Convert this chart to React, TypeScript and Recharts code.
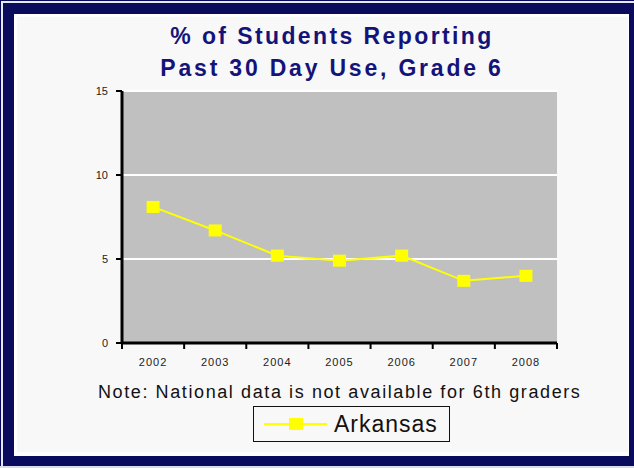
import React from "react";
import {
  CartesianGrid,
  Legend,
  Line,
  LineChart,
  XAxis,
  YAxis,
} from "recharts";

const YEARS = ["2002", "2003", "2004", "2005", "2006", "2007", "2008"];
const ARKANSAS = [8.1, 6.7, 5.2, 4.9, 5.2, 3.7, 4.0];
const Y_TICKS = [0, 5, 10, 15];

const DATA = YEARS.map((year, i) => ({ year, arkansas: ARKANSAS[i] }));

const NAVY = "#0b0b5e";
const TITLE_COLOR = "#141478";
const YELLOW = "#ffff00";
const FONT = "Arial, 'Liberation Sans', sans-serif";

const W = 634;
const H = 468;
const PLOT_LEFT = 122;
const PLOT_RIGHT = 557;
const PLOT_W = PLOT_RIGHT - PLOT_LEFT;
const HALF_BAND = PLOT_W / YEARS.length / 2;

function YearTick(props: any) {
  const { x, y, payload, index } = props;
  return (
    <g>
      <line x1={x - HALF_BAND} x2={x - HALF_BAND} y1={y} y2={y + 6} stroke="#000" strokeWidth={2} />
      {index === YEARS.length - 1 && (
        <line x1={x + HALF_BAND} x2={x + HALF_BAND} y1={y} y2={y + 6} stroke="#000" strokeWidth={2} />
      )}
      <text
        x={x}
        y={y + 23}
        textAnchor="middle"
        fontSize={11}
        fill="#222"
        letterSpacing={1}
        fontFamily={FONT}
      >
        {payload.value}
      </text>
    </g>
  );
}

function SquareDot(props: any) {
  const { cx, cy, index } = props;
  return <rect key={index} x={cx - 6.5} y={cy - 6} width={13} height={12} fill={YELLOW} />;
}

function NoteAndLegend(props: any) {
  const item = props.payload?.[0];
  return (
    <div style={{ position: "relative", width: W, height: 70, fontFamily: FONT }}>
      <div
        style={{
          position: "absolute",
          left: 98,
          top: 4,
          fontSize: 18,
          lineHeight: "20px",
          letterSpacing: 1.6,
          color: "#111",
          whiteSpace: "nowrap",
        }}
      >
        Note: National data is not available for 6th graders
      </div>
      <div
        style={{
          position: "absolute",
          left: 253,
          top: 28,
          width: 197,
          height: 36,
          border: "1.5px solid #111",
          boxSizing: "border-box",
        }}
      >
        <svg width={70} height={34} style={{ position: "absolute", left: 10, top: 0 }}>
          <line x1={0} x2={63} y1={17} y2={17} stroke={item?.color ?? YELLOW} strokeWidth={2} />
          <rect x={25} y={11} width={14} height={12} fill={item?.color ?? YELLOW} />
        </svg>
        <div
          style={{
            position: "absolute",
            left: 80,
            top: 3,
            fontSize: 23,
            lineHeight: "28px",
            letterSpacing: 1,
            color: "#111",
            whiteSpace: "nowrap",
          }}
        >
          {item?.value ?? "Arkansas"}
        </div>
      </div>
    </div>
  );
}

export default function App() {
  return (
    <div
      style={{
        position: "absolute",
        left: 0,
        top: 0,
        width: W,
        height: H,
        background: "#dcdce8",
        overflow: "hidden",
      }}
    >
      <div style={{ position: "absolute", left: 0, top: 0, width: 634, height: 466, background: NAVY }} />
      <div style={{ position: "absolute", left: 1, top: 1, width: 633, height: 465, background: "#e8e8f4" }} />
      <div style={{ position: "absolute", left: 3, top: 3, width: 631, height: 463, background: NAVY }} />
      <div style={{ position: "absolute", left: 14, top: 14, width: 615, height: 442, background: "#ffffff" }} />
      <div style={{ position: "absolute", left: 17, top: 17, width: 611, height: 435, background: "#f8f8f8" }} />

      <div
        style={{
          position: "absolute",
          left: 12,
          top: 20,
          width: 640,
          textAlign: "center",
          fontFamily: FONT,
          fontWeight: "bold",
          fontSize: 23,
          lineHeight: "32px",
          letterSpacing: 2.4,
          color: TITLE_COLOR,
        }}
      >
        <div>% of Students Reporting</div>
        <div style={{ letterSpacing: 2.8 }}>Past 30 Day Use, Grade 6</div>
      </div>

      <div style={{ position: "absolute", left: 0, top: 0 }}>
        <LineChart
          width={W}
          height={H}
          data={DATA}
          margin={{ top: 91, right: W - PLOT_RIGHT, bottom: 95, left: PLOT_LEFT - 40 }}
        >
          <CartesianGrid
            vertical={false}
            fill="#c0c0c0"
            stroke="#ffffff"
            strokeWidth={2}
          />
          <XAxis
            dataKey="year"
            height={30}
            padding={{ left: HALF_BAND, right: HALF_BAND }}
            tickSize={0}
            tickMargin={0}
            tickLine={false}
            axisLine={{ stroke: "#000", strokeWidth: 3 }}
            tick={<YearTick />}
            interval={0}
          />
          <XAxis
            xAxisId="top"
            dataKey="year"
            orientation="top"
            height={0}
            tick={false}
            tickLine={false}
            axisLine={{ stroke: "#111", strokeWidth: 2 }}
          />
          <YAxis
            width={40}
            domain={[0, 15]}
            ticks={Y_TICKS}
            interval={0}
            tickSize={6}
            tickMargin={8}
            tick={{ fontSize: 11, fill: "#222", fontFamily: FONT }}
            tickLine={{ stroke: "#000", strokeWidth: 2 }}
            axisLine={{ stroke: "#000", strokeWidth: 3 }}
          />
          <YAxis
            yAxisId="right"
            orientation="right"
            width={0}
            domain={[0, 15]}
            tick={false}
            tickLine={false}
            axisLine={{ stroke: "#111", strokeWidth: 2.5 }}
          />
          <Legend
            layout="horizontal"
            verticalAlign="middle"
            wrapperStyle={{ position: "absolute", top: 378, left: 0, width: W }}
            content={<NoteAndLegend />}
          />
          <Line
            dataKey="arkansas"
            name="Arkansas"
            stroke={YELLOW}
            strokeWidth={2}
            dot={SquareDot}
            activeDot={false}
            isAnimationActive={false}
          />
        </LineChart>
      </div>
    </div>
  );
}
